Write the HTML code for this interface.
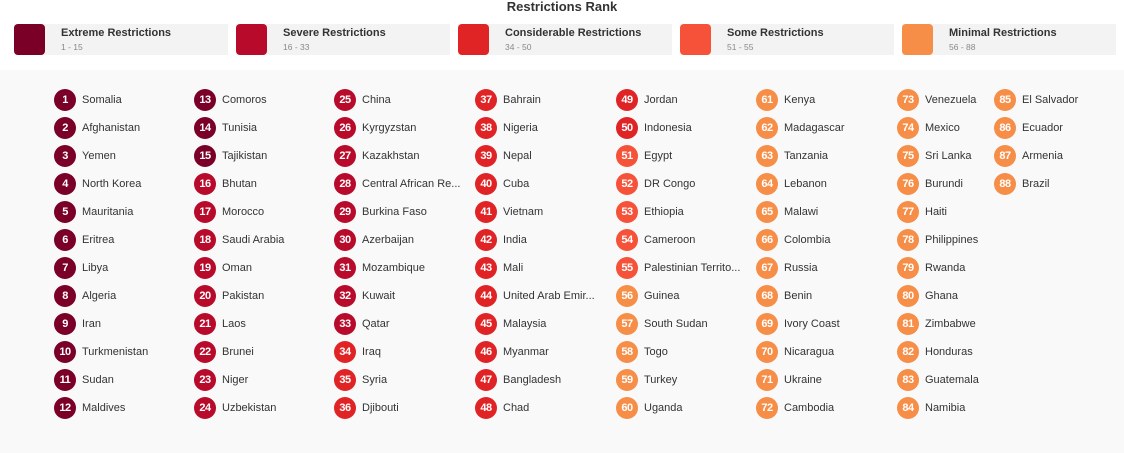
<!DOCTYPE html>
<html><head><meta charset="utf-8"><style>
body{margin:0;width:1124px;height:453px;background:#fff;font-family:"Liberation Sans",sans-serif;position:relative;overflow:hidden}
.title{position:absolute;top:-1px;left:0;width:1124px;text-align:center;font-size:13px;font-weight:bold;color:#333}
.lg{position:absolute;top:24px;height:31px;width:214px;background:#f3f3f3}
.sw{position:absolute;left:0;top:0;width:31px;height:31px;border-radius:4px}
.lt{position:absolute;left:47px;top:3px;font-size:11px;color:#333;font-weight:600}
.ls{position:absolute;left:47px;top:18px;font-size:8.5px;color:#888}
.bg{position:absolute;left:0;top:70px;width:1124px;height:383px;background:#f9f9f9}
.it{position:absolute;height:22px;font-size:11px;color:#333;white-space:nowrap}
.c{position:absolute;left:0;top:0;width:22px;height:22px;border-radius:50%;color:#fff;font-weight:bold;font-size:11px;text-align:center;line-height:22px;letter-spacing:-0.5px}
.n{position:absolute;left:28px;top:5px}
</style></head><body>
<div class="title">Restrictions Rank</div>
<div class="bg"></div>
<div id="root"></div>
<script>
var cols=["#7b0028","#b80a2b","#e02426","#f55239","#f68e48"];
var lg=[["Extreme Restrictions","1 - 15"],["Severe Restrictions","16 - 33"],["Considerable Restrictions","34 - 50"],["Some Restrictions","51 - 55"],["Minimal Restrictions","56 - 88"]];
var h="";
lg.forEach(function(l,i){h+='<div class="lg" style="left:'+(14+222*i)+'px"><div class="sw" style="background:'+cols[i]+'"></div><div class="lt">'+l[0]+'</div><div class="ls">'+l[1]+'</div></div>';});
var names=["Somalia","Afghanistan","Yemen","North Korea","Mauritania","Eritrea","Libya","Algeria","Iran","Turkmenistan","Sudan","Maldives","Comoros","Tunisia","Tajikistan","Bhutan","Morocco","Saudi Arabia","Oman","Pakistan","Laos","Brunei","Niger","Uzbekistan","China","Kyrgyzstan","Kazakhstan","Central African Re...","Burkina Faso","Azerbaijan","Mozambique","Kuwait","Qatar","Iraq","Syria","Djibouti","Bahrain","Nigeria","Nepal","Cuba","Vietnam","India","Mali","United Arab Emir...","Malaysia","Myanmar","Bangladesh","Chad","Jordan","Indonesia","Egypt","DR Congo","Ethiopia","Cameroon","Palestinian Territo...","Guinea","South Sudan","Togo","Turkey","Uganda","Kenya","Madagascar","Tanzania","Lebanon","Malawi","Colombia","Russia","Benin","Ivory Coast","Nicaragua","Ukraine","Cambodia","Venezuela","Mexico","Sri Lanka","Burundi","Haiti","Philippines","Rwanda","Ghana","Zimbabwe","Honduras","Guatemala","Namibia","El Salvador","Ecuador","Armenia","Brazil"];
var xs=[54,194,334,475,616,756,897,994];
names.forEach(function(n,i){var r=i+1,c=Math.floor(i/12),row=i%12;
var col=r<=15?0:r<=33?1:r<=50?2:r<=55?3:4;
h+='<div class="it" style="left:'+xs[c]+'px;top:'+(89+28*row)+'px"><div class="c" style="background:'+cols[col]+'">'+r+'</div><div class="n">'+n+'</div></div>';});
document.getElementById("root").innerHTML=h;
</script>
</body></html>
